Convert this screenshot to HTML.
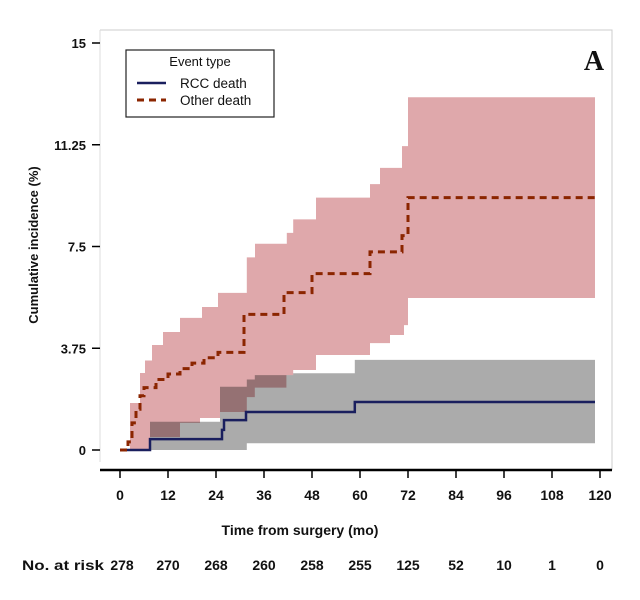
<!DOCTYPE html>
<html><head><meta charset="utf-8"><style>
body{margin:0;background:#fff;}
svg{display:block;font-family:"Liberation Sans",Arial,sans-serif;}
</style></head><body>
<svg width="640" height="600" viewBox="0 0 640 600">
<g id="bands"></g>
<g id="lines"></g>
<g id="axes"></g>
<g>
<rect x="126" y="50" width="148" height="67" fill="#fff" stroke="#222" stroke-width="1.2"/>
<text x="200" y="66" text-anchor="middle" font-size="13" fill="#111">Event type</text>
<line x1="137" y1="83" x2="166" y2="83" stroke="#1a1f5e" stroke-width="2.5"/>
<text x="180" y="88" font-size="13.5" fill="#111">RCC death</text>
<line x1="137" y1="100" x2="166" y2="100" stroke="#8b2500" stroke-width="3" stroke-dasharray="7,5"/>
<text x="180" y="105" font-size="13.5" fill="#111">Other death</text>
</g>
<text x="594" y="70" text-anchor="middle" font-family="Liberation Serif,serif" font-weight="bold" font-size="28" fill="#111">A</text>
<text transform="translate(38,245) rotate(-90)" text-anchor="middle" font-size="13" font-weight="bold" fill="#111">Cumulative incidence (%)</text>
<text x="300" y="535" text-anchor="middle" font-size="14" font-weight="bold" fill="#111">Time from surgery (mo)</text>
<g id="risk">
<text x="22" y="570" font-size="14" font-weight="bold" fill="#111" textLength="82" lengthAdjust="spacingAndGlyphs">No. at risk</text>
</g>
</svg>
<script>
const xTicks=[0,12,24,36,48,60,72,84,96,108,120];
const yTicks=[0,3.75,7.5,11.25,15];
const yTickLabels=["0","3.75","7.5","11.25","15"];
const riskCounts=[278,270,268,260,258,255,125,52,10,1,0];
const otherDeath=[[0,0],[2,0.3],[3,1.0],[4,1.5],[5,2.0],[6,2.3],[9,2.6],[12,2.8],[15,3.0],[18,3.2],[21,3.4],[24.5,3.6],[31,5.0],[41,5.8],[48,6.5],[62.5,7.3],[70.5,7.9],[72,9.3],[118.75,9.3]];
const otherUpper=[[0,0],[2.5,1.73],[5,2.84],[6.25,3.3],[8,3.87],[10.75,4.35],[15,4.87],[20.5,5.27],[24.5,5.79],[31.7,7.1],[33.75,7.6],[41.7,8.0],[43.3,8.5],[49,9.3],[62.5,9.8],[65,10.4],[70.5,11.2],[72,13.0],[118.75,13.0]];
const otherLower=[[0,0],[7.5,0.48],[15,1.0],[20,1.18],[25,1.4],[31.7,1.95],[33.7,2.3],[41.6,2.76],[43.3,2.95],[49,3.5],[62.5,3.94],[67.5,4.24],[71,4.6],[72,5.6],[118.75,5.6]];
const rccDeath=[[0,0],[7.5,0.4],[25.5,0.74],[26,1.1],[31.5,1.4],[58.7,1.77],[118.75,1.77]];
const rccUpper=[[7.5,1.04],[25,2.33],[31.7,2.6],[33.7,2.76],[43.3,2.83],[58.7,3.32],[118.75,3.32]];
const rccLower=[[7.5,0],[31.7,0.25],[118.75,0.25]];

const NS="http://www.w3.org/2000/svg";
const X=t=>120+t*4;
const Y=v=>450-v*(407/15);
function mk(tag,attrs,parent){const e=document.createElementNS(NS,tag);for(const k in attrs)e.setAttribute(k,attrs[k]);parent.appendChild(e);return e;}
function stepPts(s){let p=[];for(let i=0;i<s.length;i++){if(i>0)p.push([X(s[i][0]),Y(s[i-1][1])]);p.push([X(s[i][0]),Y(s[i][1])]);}return p;}
function linePath(s){return "M"+stepPts(s).map(p=>p.join(",")).join("L");}
function bandPath(u,l){const a=stepPts(u),b=stepPts(l).reverse();return "M"+a.concat(b).map(p=>p.join(",")).join("L")+"Z";}

const bands=document.getElementById('bands');
const g1=mk('path',{d:bandPath(rccUpper,rccLower),fill:'#ababab'},bands);


const g2=mk('path',{d:bandPath(otherUpper,otherLower),fill:'#dfa8ab',style:'mix-blend-mode:multiply'},bands);



const lines=document.getElementById('lines');
const l1=mk('path',{d:linePath(rccDeath),fill:'none',stroke:'#1a1f5e','stroke-width':2.5},lines);


const l2=mk('path',{d:linePath(otherDeath),fill:'none',stroke:'#8b2500','stroke-width':3,'stroke-dasharray':'7,5'},lines);



const axes=document.getElementById('axes');
const fr=mk('path',{d:'M100,30L612,30L612,470',fill:'none',stroke:'#ccc','stroke-width':1},axes);


const ya=mk('line',{x1:100,y1:30,x2:100,y2:462,stroke:'#ddd','stroke-width':1},axes);


const xa=mk('line',{x1:100,y1:470,x2:612,y2:470,stroke:'#000','stroke-width':2.5},axes);


yTicks.forEach((v,i)=>{
 const t=mk('line',{x1:92,y1:Y(v),x2:100,y2:Y(v),stroke:'#000','stroke-width':1.5},axes);
 
 
 const tx=mk('text',{x:86,y:Y(v)+5,'text-anchor':'end','font-size':13,'font-weight':'bold',fill:'#111'},axes);
 
 
 tx.textContent=yTickLabels[i];
});
xTicks.forEach((t,i)=>{
 const tk=mk('line',{x1:X(t),y1:470,x2:X(t),y2:478,stroke:'#000','stroke-width':1.5},axes);
 
 
 const tx=mk('text',{x:X(t),y:500,'text-anchor':'middle','font-size':14,'font-weight':'bold',fill:'#111'},axes);
 
 
 tx.textContent=t;
});
const risk=document.getElementById('risk');
riskCounts.forEach((n,i)=>{
 const tx=mk('text',{x:X(xTicks[i])+(i===0?2:0),y:570,'text-anchor':'middle','font-size':14,'font-weight':'bold',fill:'#111'},risk);
 
 
 tx.textContent=n;
});
</script>
</body></html>
